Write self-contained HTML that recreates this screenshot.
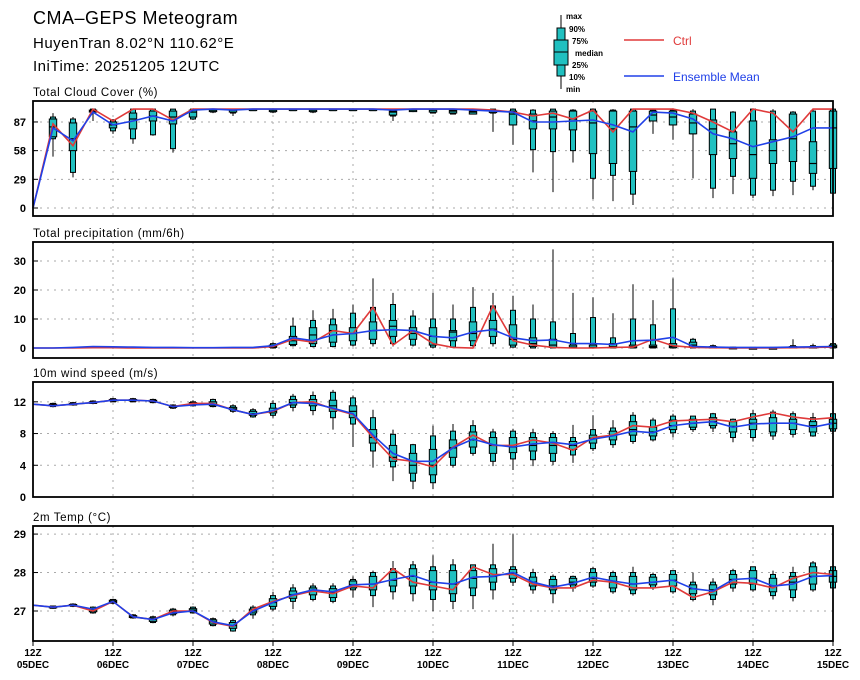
<!DOCTYPE html>
<html><head><meta charset="utf-8">
<style>
html,body{margin:0;padding:0;background:#fff;}
svg{display:block;font-family:"Liberation Sans",sans-serif;}
</style></head>
<body>
<svg id="chart" width="860" height="680" viewBox="0 0 860 680">
<g>
<text x="33" y="24" font-size="18" letter-spacing="0.5">CMA–GEPS Meteogram</text>
<text x="33" y="48" font-size="15" letter-spacing="0.5">HuyenTran 8.02°N 110.62°E</text>
<text x="33" y="71" font-size="15" letter-spacing="0.5">IniTime: 20251205 12UTC</text>
</g>
<g font-size="8" font-weight="bold">
<line x1="561" y1="15" x2="561" y2="89" stroke="#000" stroke-width="1"/>
<rect x="557" y="28" width="8" height="48" fill="#20c0c0" stroke="#000"/>
<rect x="554" y="40" width="14" height="25" fill="#20c0c0" stroke="#000"/>
<line x1="554" y1="52" x2="568" y2="52" stroke="#000"/>
<text x="566" y="19">max</text>
<text x="569" y="32">90%</text>
<text x="572" y="44">75%</text>
<text x="575" y="56">median</text>
<text x="572" y="68">25%</text>
<text x="569" y="80">10%</text>
<text x="566" y="92">min</text>
<line x1="624" y1="40" x2="664" y2="40" stroke="#e03a3a" stroke-width="1.5"/>
<text x="673" y="45" font-size="12" font-weight="normal" fill="#e03a3a">Ctrl</text>
<line x1="624" y1="76" x2="664" y2="76" stroke="#2040e8" stroke-width="1.5"/>
<text x="673" y="81" font-size="12" font-weight="normal" fill="#2040e8">Ensemble Mean</text>
</g>
</svg>
<script>
const timeSteps = 41;
const dayLabels = ["05DEC","06DEC","07DEC","08DEC","09DEC","10DEC","11DEC","12DEC","13DEC","14DEC","15DEC"];

const cloudTicks = [0,29,58,87];
const cloudMax = [null,96,92,100,90,100,100,100,100,100,100,100,100,100,100,100,100,100,100,100,100,100,100,100,100,100,100,100,100,100,100,100,100,100,100,98,100,100,98,100,100];
const cloudP90 = [null,92,90,100,89,100,100,100,100,100,100,100,100,100,100,100,100,100,100,100,100,100,100,100,100,99,100,99,100,99,100,99,99,98,100,97,100,98,97,98,100];
const cloudP75 = [null,90,86,99,87,96,98,98,99,99,99,100,99,100,99,100,100,100,98,99,99,99,98,98,98,95,98,98,98,98,98,98,98,95,89,77,88,69,95,67,98];
const cloudMed = [null,82,70,98,84,90,93,92,97,99,99,100,99,100,99,100,100,100,97,99,99,98,97,99,95,88,92,90,86,80,82,94,92,86,80,65,54,58,70,45,81];
const cloudP25 = [null,72,58,97,81,80,88,85,92,98,97,100,98,100,98,100,100,100,94,98,97,96,95,97,84,80,80,79,55,45,37,88,84,75,54,50,30,45,47,35,40];
const cloudP10 = [null,70,36,97,78,70,74,60,90,97,96,100,97,100,97,100,100,100,93,98,96,95,95,96,84,59,57,58,30,33,14,88,84,75,20,32,13,18,27,22,15];
const cloudMin = [null,52,31,88,75,65,73,56,89,96,93,100,96,100,96,100,100,100,88,97,96,95,95,77,64,36,16,46,9,7,3,75,69,30,10,14,10,12,13,18,15];
const cloudCtrl = [0,85,63,100,88,100,100,89,100,100,100,100,100,100,100,100,100,100,100,100,100,100,100,99,97,93,96,90,99,77,100,100,100,96,87,77,100,96,77,100,100];
const cloudMean = [0,81,68,97,84,88,93,88,99,100,99,100,100,100,100,100,100,100,99,100,100,100,99,98,97,87,87,88,89,84,77,97,96,90,75,70,62,67,72,81,81];

const precTicks = [0,10,20,30];
const N12 = [null,null,null,null,null,null,null,null,null,null,null,null];
const precMax = N12.concat([2,10.5,13,13.5,15,24,19,13,19,15,21,19,18,15,34,19,17.5,12,22,16.5,24,3.5,1.2,0.5,0.3,0.3,3,1.5,2]);
const precP90 = N12.concat([1.5,7.5,9.5,10,12,14,15,11,10,10,14,14.5,13,10,9,5,10.5,3.5,10,8,13.5,3,0.8,0.3,0.2,0.2,0.8,0.8,1.5]);
const precP75 = N12.concat([1,4,7,8,7,9,9.5,7,7,6,9,9.5,8,3.5,3,1,1,1.5,1,1,1.5,2,0.5,0.2,0.1,0.1,0.5,0.5,1]);
const precMed = N12.concat([0.5,2.5,4.5,6,5,6,7.5,5,4,5.5,5,6.5,3,1.5,1,0.3,0.2,0.5,0.5,0.5,0.5,1,0.2,0.1,0,0,0.2,0.2,0.5]);
const precP25 = N12.concat([0.2,1.2,1.5,2,2.5,3,4,3,1,2.5,2.5,4,1,0.5,0.2,0.1,0,0.1,0.1,0.2,0.1,0.3,0.1,0,0,0,0,0,0.1]);
const precP10 = N12.concat([0,0.8,0.5,0.5,1,1.5,1.5,1,0.3,0.3,0.8,1.5,0.3,0,0,0,0,0,0,0,0,0,0,0,0,0,0,0,0]);
const precMin = N12.concat([0,0.5,0.2,0.2,0.5,0.5,0.5,0.5,0.1,0.1,0.2,0.5,0.1,0,0,0,0,0,0,0,0,0,0,0,0,0,0,0,0]);
const precCtrl = [0,0,0,0.1,0.1,0,0,0,0,0,0,0,0.5,3,2,6,5,14,1,6,1.5,0.2,0,14.5,2.5,1,0.2,0,0,0.2,0.3,3,0.8,0.2,0.1,0,0,0,0.1,0.2,0.3];
const precMean = [0,0,0.2,0.5,0.4,0.3,0.2,0.2,0.1,0.1,0.2,0.2,0.8,3.5,2.5,4.5,5,6,6.3,6,4,3.5,5.5,6.3,3.5,2.5,2.8,1.5,1.5,1.2,2.5,2.7,3.7,0.5,0.3,0.2,0.2,0.2,0.3,0.4,0.5];

const windTicks = [0,4,8,12];
const windCtrl = [11.7,11.5,11.7,11.9,12.2,12.2,12.1,11.4,11.8,11.8,11.0,10.4,10.8,11.9,12.0,11.1,10.4,7.5,4.8,4.5,3.8,6.3,7.8,6.5,6.5,7.2,6.8,5.9,7.5,7.8,9.0,8.8,9.6,9.7,9.8,9.5,10.1,10.6,10.1,9.8,10.0];
const windMean = [11.7,11.5,11.7,11.9,12.2,12.2,12.1,11.4,11.6,11.7,11.0,10.4,10.9,11.9,11.8,11.2,10.5,7.8,5.5,4.5,4.5,6.2,7.3,6.6,6.3,6.7,6.9,6.6,7.3,7.7,8.3,8.1,9.0,9.3,9.5,8.8,9.2,9.3,9.3,8.8,9.3];
const windMin = [null,11.3,11.5,11.7,12.0,12.0,11.8,11.1,11.4,11.3,10.6,10.0,10.0,10.8,10.3,8.5,6.3,3.7,2.0,1.0,1.0,3.7,5.2,3.9,3.4,3.9,4.0,4.3,5.8,6.2,6.7,7.0,7.5,8.2,8.2,6.9,7.0,7.2,7.5,7.6,8.2];
const windP10 = [null,11.4,11.6,11.8,12.0,12.0,11.9,11.2,11.5,11.4,10.8,10.1,10.3,11.3,10.9,10.0,9.2,5.8,3.8,2.0,1.8,4.0,5.5,4.5,4.8,4.7,4.5,5.3,6.1,6.6,7.0,7.2,8.1,8.5,8.7,7.5,7.5,7.7,7.9,7.7,8.3];
const windP25 = [null,11.5,11.6,11.8,12.1,12.1,12.0,11.3,11.6,11.5,11.0,10.3,10.6,11.6,11.5,10.8,10.0,6.8,4.5,3.0,2.8,5.0,6.3,5.5,5.6,5.8,5.5,6.0,6.8,7.2,7.8,7.7,8.5,8.8,9.0,8.2,8.5,8.2,8.5,8.2,8.6];
const windMed = [null,11.6,11.7,11.9,12.2,12.2,12.1,11.4,11.7,11.7,11.1,10.5,10.8,11.9,11.8,11.5,10.8,7.5,5.0,4.0,4.0,6.2,7.2,6.5,6.3,6.5,6.5,6.5,7.4,7.8,8.5,8.2,9.0,9.3,9.5,8.9,9.3,9.3,9.3,9.0,9.3];
const windP75 = [null,11.7,11.8,12.0,12.3,12.3,12.2,11.5,11.9,12.0,11.3,10.8,11.2,12.3,12.3,12.2,11.5,8.5,6.5,5.5,6.0,7.2,8.2,7.5,7.5,7.5,7.5,7.0,7.8,8.3,9.5,8.8,9.7,9.8,10.0,9.5,9.8,10.0,9.8,9.5,9.8];
const windP90 = [null,11.8,11.9,12.1,12.4,12.4,12.3,11.6,12.0,12.3,11.5,11.0,11.8,12.7,12.8,13.2,12.5,10.0,7.9,6.6,7.7,8.3,9.0,8.2,8.3,8.1,8.0,7.5,8.5,8.7,10.3,9.7,10.2,10.2,10.5,9.8,10.5,10.7,10.5,10.0,10.5];
const windMax = [null,11.9,12.0,12.2,12.5,12.5,12.4,11.7,12.2,12.4,11.7,11.2,12.2,13.0,13.3,13.5,12.8,11.0,8.5,6.7,9.0,9.2,9.7,8.6,8.6,8.6,8.3,9.1,10.3,9.7,10.7,10.0,10.5,10.2,10.6,9.9,11.0,11.0,10.8,10.6,10.8];

const tempTicks = [27,28,29];
const tempCtrl = [27.15,27.1,27.15,27.0,27.25,26.85,26.78,27.0,27.0,26.7,26.6,27.05,27.25,27.4,27.52,27.45,27.65,27.6,28.1,27.75,27.65,27.55,28.15,27.95,27.95,27.7,27.6,27.6,27.8,27.75,27.6,27.6,27.65,27.35,27.5,27.75,27.72,27.6,27.85,28.0,27.95];
const tempMean = [27.15,27.1,27.15,27.05,27.25,26.85,26.78,26.95,27.0,26.72,26.62,27.0,27.22,27.42,27.55,27.5,27.68,27.7,27.82,27.92,27.75,27.7,27.88,27.9,28.0,27.75,27.62,27.72,27.88,27.78,27.7,27.75,27.8,27.58,27.52,27.82,27.85,27.65,27.7,27.9,27.92];
const tempMin = [null,27.06,27.1,26.93,27.18,26.8,26.68,26.86,26.93,26.6,26.46,26.8,27.0,27.05,27.25,27.2,27.35,27.1,27.3,27.25,27.0,27.05,27.05,27.3,27.65,27.45,27.2,27.5,27.6,27.45,27.4,27.55,27.45,27.25,27.15,27.5,27.5,27.3,27.25,27.5,27.55];
const tempP10 = [null,27.07,27.12,26.95,27.2,26.82,26.7,26.9,26.95,26.62,26.48,26.9,27.05,27.25,27.3,27.25,27.55,27.4,27.5,27.45,27.3,27.25,27.4,27.55,27.75,27.55,27.45,27.6,27.65,27.5,27.45,27.6,27.5,27.3,27.3,27.6,27.55,27.4,27.35,27.55,27.6];
const tempP25 = [null,27.08,27.13,26.98,27.22,26.83,26.73,26.93,26.98,26.66,26.55,26.95,27.12,27.33,27.42,27.35,27.6,27.55,27.65,27.65,27.55,27.45,27.6,27.75,27.85,27.65,27.55,27.68,27.75,27.6,27.55,27.68,27.65,27.45,27.42,27.7,27.7,27.5,27.55,27.7,27.75];
const tempMed = [null,27.1,27.15,27.02,27.25,26.85,26.78,26.97,27.02,26.72,26.62,27.0,27.22,27.42,27.52,27.48,27.68,27.7,27.8,27.9,27.75,27.7,27.85,27.9,27.98,27.75,27.65,27.75,27.85,27.75,27.7,27.75,27.8,27.58,27.55,27.82,27.85,27.65,27.75,27.9,27.9];
const tempP75 = [null,27.12,27.17,27.06,27.28,26.88,26.82,27.02,27.06,26.77,26.7,27.05,27.32,27.52,27.6,27.58,27.78,27.9,28.0,28.1,28.05,28.05,28.05,28.1,28.08,27.88,27.82,27.85,28.0,27.9,27.9,27.88,27.95,27.68,27.68,27.95,28.05,27.85,27.9,28.15,28.05];
const tempP90 = [null,27.13,27.18,27.1,27.3,26.9,26.85,27.05,27.1,26.8,26.75,27.1,27.4,27.6,27.65,27.65,27.82,28.0,28.1,28.2,28.15,28.2,28.2,28.2,28.15,28.0,27.9,27.9,28.1,28.0,28.0,27.95,28.05,27.75,27.75,28.05,28.15,27.95,28.0,28.25,28.15];
const tempMax = [null,27.14,27.2,27.12,27.32,26.92,26.88,27.08,27.12,26.83,26.8,27.15,27.5,27.7,27.72,27.72,27.9,28.05,28.3,28.3,28.45,28.35,28.2,28.75,29.0,28.1,27.95,27.92,28.15,28.05,28.15,28.0,28.05,28.0,27.85,28.1,28.15,28.05,28.15,28.3,28.2];

const NS = "http://www.w3.org/2000/svg";
const svg = document.getElementById("chart");
const X0 = 33, X1 = 833;
function xScale(i){ return X0 + (X1 - X0) * i / (timeSteps - 1); }
function mk(tag, attrs, parent){
  const e = document.createElementNS(NS, tag);
  for (const k in attrs) e.setAttribute(k, attrs[k]);
  (parent || svg).appendChild(e);
  return e;
}
function valid(v){ return v !== null && v !== undefined; }

function drawPanel(p){
  const g = mk("g", {});
  
  
  const y = v => p.top + (p.vTop - v) / (p.vTop - p.vBot) * (p.bot - p.top);
  const t = mk("text", {x: 33, y: p.top - 5, "font-size": 11.5, "letter-spacing": "0.6"}, g);
  t.textContent = p.title;
  
  
  // grid
  for (let d = 1; d < 10; d++){
    const gl = mk("line", {x1: xScale(d*4), x2: xScale(d*4), y1: p.top, y2: p.bot, stroke: "#aaa", "stroke-width": 1, "stroke-dasharray": "2,5"}, g);
    
    
  }
  p.ticks.forEach(v => {
    const yy = y(v);
    const gl = mk("line", {x1: X0, x2: X1, y1: yy, y2: yy, stroke: "#aaa", "stroke-width": 1, "stroke-dasharray": "2,5"}, g);
    
    
    const tk = mk("line", {x1: X0, x2: X0 + 5, y1: yy, y2: yy, stroke: "#000"}, g);
    
    
    const lb = mk("text", {x: 26, y: yy + 4, "font-size": 11, "font-weight": "bold", "text-anchor": "end"}, g);
    lb.textContent = v;
    
    
  });
  // boxes
  for (let i = 0; i < timeSteps; i++){
    if (!valid(p.mx[i])) continue;
    const cx = xScale(i);
    const bg = mk("g", {}, g);
    
    
    const w = mk("line", {x1: cx, x2: cx, y1: y(p.mx[i]), y2: y(p.mn[i]), stroke: "#000", "stroke-width": 1}, bg);
    
    
    const y90 = y(p.p90[i]), y10 = y(p.p10[i]);
    const o = mk("rect", {x: cx - 2.5, y: y90, width: 5, height: Math.max(1.5, y10 - y90), fill: "#20c0c0", stroke: "#000", "stroke-width": 1}, bg);
    
    
    const y75 = y(p.p75[i]), y25 = y(p.p25[i]);
    const r = mk("rect", {x: cx - 3.7, y: y75, width: 7.4, height: Math.max(1.5, y25 - y75), fill: "#20c0c0", stroke: "#000", "stroke-width": 1}, bg);
    
    
    const ym = y(p.med[i]);
    const m = mk("line", {x1: cx - 3.7, x2: cx + 3.7, y1: ym, y2: ym, stroke: "#000", "stroke-width": 1.2}, bg);
    
    
  }
  const path = arr => arr.map((v,i) => (i ? "L" : "M") + xScale(i).toFixed(1) + "," + y(v).toFixed(1)).join("");
  const lc = mk("path", {d: path(p.ctrl), fill: "none", stroke: "#e03a3a", "stroke-width": 1.6}, g);
  
  
  const lm = mk("path", {d: path(p.mean), fill: "none", stroke: "#2040e8", "stroke-width": 1.6}, g);
  
  
  const fr = mk("rect", {x: X0, y: p.top, width: X1 - X0, height: p.bot - p.top, fill: "none", stroke: "#000", "stroke-width": 1.8}, g);
  
  
}

drawPanel({name:"cloud", title:"Total Cloud Cover (%)", top:101, bot:216, vTop:108.2, vBot:-8.1, ticks:cloudTicks,
  mx:cloudMax, p90:cloudP90, p75:cloudP75, med:cloudMed, p25:cloudP25, p10:cloudP10, mn:cloudMin, ctrl:cloudCtrl, mean:cloudMean});
drawPanel({name:"precip", title:"Total precipitation (mm/6h)", top:242, bot:358, vTop:36.55, vBot:-3.45, ticks:precTicks,
  mx:precMax, p90:precP90, p75:precP75, med:precMed, p25:precP25, p10:precP10, mn:precMin, ctrl:precCtrl, mean:precMean});
drawPanel({name:"wind", title:"10m wind speed (m/s)", top:382, bot:497, vTop:14.5, vBot:0, ticks:windTicks,
  mx:windMax, p90:windP90, p75:windP75, med:windMed, p25:windP25, p10:windP10, mn:windMin, ctrl:windCtrl, mean:windMean});
drawPanel({name:"temp", title:"2m Temp (°C)", top:526, bot:641, vTop:29.21, vBot:26.22, ticks:tempTicks,
  mx:tempMax, p90:tempP90, p75:tempP75, med:tempMed, p25:tempP25, p10:tempP10, mn:tempMin, ctrl:tempCtrl, mean:tempMean});

const xg = mk("g", {"font-size": 10, "font-weight": "bold", "text-anchor": "middle"});


dayLabels.forEach((d, k) => {
  const xx = xScale(k * 4);
  const tk = mk("line", {x1: xx, x2: xx, y1: 641, y2: 646, stroke: "#000"}, xg);
  
  
  const a = mk("text", {x: xx, y: 656}, xg);
  a.textContent = "12Z";
  
  
  const b = mk("text", {x: xx, y: 668}, xg);
  b.textContent = d;
  
  
});
</script>
</body></html>
